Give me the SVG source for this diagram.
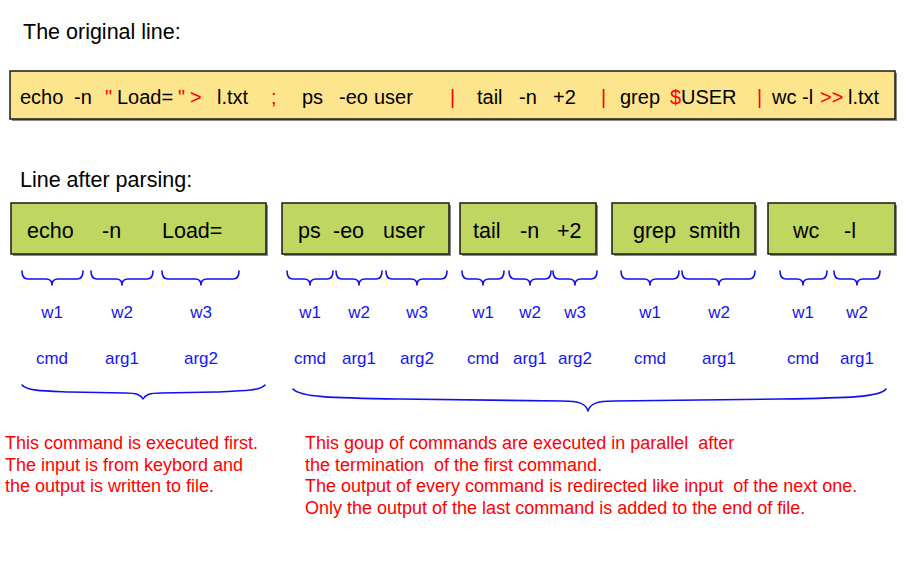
<svg xmlns="http://www.w3.org/2000/svg" width="923" height="564" viewBox="0 0 923 564">
<style>
text{font-family:"Liberation Sans",Arial,Helvetica,sans-serif;}
.title{font-size:21.5px;fill:#000;}
.top{font-size:20px;fill:#000;}
.red{fill:#f00;}
.box{stroke:#1a1a1a;stroke-width:1.5;}
.shadow{fill:#8a8a8a;}
.yel{fill:#FCE58C;}
.grn{fill:#BFD661;}
.btxt{font-size:21.5px;fill:#000;}
.brace{fill:none;stroke:#1010f0;stroke-width:1.6;stroke-linecap:round;stroke-linejoin:round;}
.blue{font-size:17px;fill:#1515f5;text-anchor:middle;}
.note{font-size:18px;fill:#f00;}
</style>
<rect width="923" height="564" fill="#fff"/>

<text class="title" x="23" y="39">The original line:</text>

<g id="node-original">
<rect class="shadow" x="12" y="73" width="885" height="48"/>
<rect class="box yel" x="10" y="71" width="885" height="48"/>
<text class="top" y="104">
<tspan x="20">echo</tspan><tspan x="74">-n</tspan><tspan x="105" class="red">"</tspan><tspan x="117">Load=</tspan><tspan x="178" class="red">"</tspan><tspan x="190" class="red">&gt;</tspan><tspan x="217">l.txt</tspan><tspan x="271" class="red">;</tspan><tspan x="302">ps</tspan><tspan x="339">-eo</tspan><tspan x="374">user</tspan><tspan x="450" class="red">|</tspan><tspan x="477">tail</tspan><tspan x="519">-n</tspan><tspan x="553">+2</tspan><tspan x="601" class="red">|</tspan><tspan x="620">grep</tspan><tspan x="670" class="red">$</tspan><tspan x="681">USER</tspan><tspan x="757" class="red">|</tspan><tspan x="772">wc -l</tspan><tspan x="820" class="red">&gt;&gt;</tspan><tspan x="848">l.txt</tspan>
</text>
</g>

<text class="title" x="20" y="187">Line after parsing:</text>

<g id="node-echo">
<rect class="shadow" x="13" y="205" width="255" height="51"/>
<rect class="box grn" x="11" y="203" width="255" height="51"/>
<text class="btxt" y="238"><tspan x="27">echo</tspan><tspan x="102">-n</tspan><tspan x="162">Load=</tspan></text>
</g>
<g id="node-ps">
<rect class="shadow" x="284" y="205" width="167" height="51"/>
<rect class="box grn" x="282" y="203" width="167" height="51"/>
<text class="btxt" y="238"><tspan x="298">ps</tspan><tspan x="333">-eo</tspan><tspan x="383">user</tspan></text>
</g>
<g id="node-tail">
<rect class="shadow" x="462" y="205" width="136" height="51"/>
<rect class="box grn" x="460" y="203" width="136" height="51"/>
<text class="btxt" y="238"><tspan x="473">tail</tspan><tspan x="520">-n</tspan><tspan x="557">+2</tspan></text>
</g>
<g id="node-grep">
<rect class="shadow" x="614" y="205" width="143" height="51"/>
<rect class="box grn" x="612" y="203" width="143" height="51"/>
<text class="btxt" y="238"><tspan x="633">grep</tspan><tspan x="689">smith</tspan></text>
</g>
<g id="node-wc">
<rect class="shadow" x="770" y="205" width="127" height="51"/>
<rect class="box grn" x="768" y="203" width="127" height="51"/>
<text class="btxt" y="238"><tspan x="793">wc</tspan><tspan x="844">-l</tspan></text>
</g>

<g id="connectors">
<path class="brace" d="M22,271 Q22,279 28,279 H46 Q52,279 52,285 Q52,279 58,279 H77 Q83,279 83,271"/>
<path class="brace" d="M91,271 Q91,279 97,279 H116 Q122,279 122,285 Q122,279 128,279 H147 Q153,279 153,271"/>
<path class="brace" d="M162,271 Q162,279 168,279 H195 Q201,279 201,285 Q201,279 207,279 H233 Q239,279 239,271"/>
<path class="brace" d="M287,271 Q287,279 293,279 H304 Q310,279 310,285 Q310,279 316,279 H327 Q333,279 333,271"/>
<path class="brace" d="M336,271 Q336,279 342,279 H353 Q359,279 359,285 Q359,279 365,279 H376 Q382,279 382,271"/>
<path class="brace" d="M386,271 Q386,279 392,279 H411 Q417,279 417,285 Q417,279 423,279 H441 Q447,279 447,271"/>
<path class="brace" d="M462,271 Q462,279 468,279 H477 Q483,279 483,285 Q483,279 489,279 H498 Q504,279 504,271"/>
<path class="brace" d="M509,271 Q509,279 515,279 H524 Q530,279 530,285 Q530,279 536,279 H545 Q551,279 551,271"/>
<path class="brace" d="M553,271 Q553,279 559,279 H569 Q575,279 575,285 Q575,279 581,279 H591 Q597,279 597,271"/>
<path class="brace" d="M621,271 Q621,279 627,279 H644 Q650,279 650,285 Q650,279 656,279 H673 Q679,279 679,271"/>
<path class="brace" d="M682,271 Q682,279 688,279 H713 Q719,279 719,285 Q719,279 725,279 H749 Q755,279 755,271"/>
<path class="brace" d="M780,271 Q780,279 786,279 H797 Q803,279 803,285 Q803,279 809,279 H821 Q827,279 827,271"/>
<path class="brace" d="M834,271 Q834,279 840,279 H851 Q857,279 857,285 Q857,279 863,279 H874 Q880,279 880,271"/>
<path class="brace" d="M22,385 C27,391 45,391 70,392 L125,393 C137,393 141,395 143,399 C145,395 149,393 161,393 L215,392 C240,391 260,391 265,385"/>
<path class="brace" d="M293,389 C300,397 330,398 400,399 L562,401 C580,401 586,404 588,411 C590,404 596,401 614,401 L780,399 C850,398 880,397 886,389"/>
</g>

<g id="labels">
<text class="blue" y="318"><tspan x="52">w1</tspan><tspan x="122">w2</tspan><tspan x="201">w3</tspan><tspan x="310">w1</tspan><tspan x="359">w2</tspan><tspan x="417">w3</tspan><tspan x="483">w1</tspan><tspan x="530">w2</tspan><tspan x="575">w3</tspan><tspan x="650">w1</tspan><tspan x="719">w2</tspan><tspan x="803">w1</tspan><tspan x="857">w2</tspan></text>
<text class="blue" y="364"><tspan x="52">cmd</tspan><tspan x="122">arg1</tspan><tspan x="201">arg2</tspan><tspan x="310">cmd</tspan><tspan x="359">arg1</tspan><tspan x="417">arg2</tspan><tspan x="483">cmd</tspan><tspan x="530">arg1</tspan><tspan x="575">arg2</tspan><tspan x="650">cmd</tspan><tspan x="719">arg1</tspan><tspan x="803">cmd</tspan><tspan x="857">arg1</tspan></text>
</g>

<g id="notes">
<text class="note"><tspan x="5" y="449">This command is executed first.</tspan><tspan x="5" y="470.5">The input is from keybord and</tspan><tspan x="5" y="492">the output is written to file.</tspan></text>
<text class="note" xml:space="preserve"><tspan x="305" y="449">This goup of commands are executed in parallel  after</tspan><tspan x="305" y="470.5">the termination  of the first command.</tspan><tspan x="305" y="492">The output of every command is redirected like input  of the next one.</tspan><tspan x="305" y="513.5">Only the output of the last command is added to the end of file.</tspan></text>
</g>
</svg>
